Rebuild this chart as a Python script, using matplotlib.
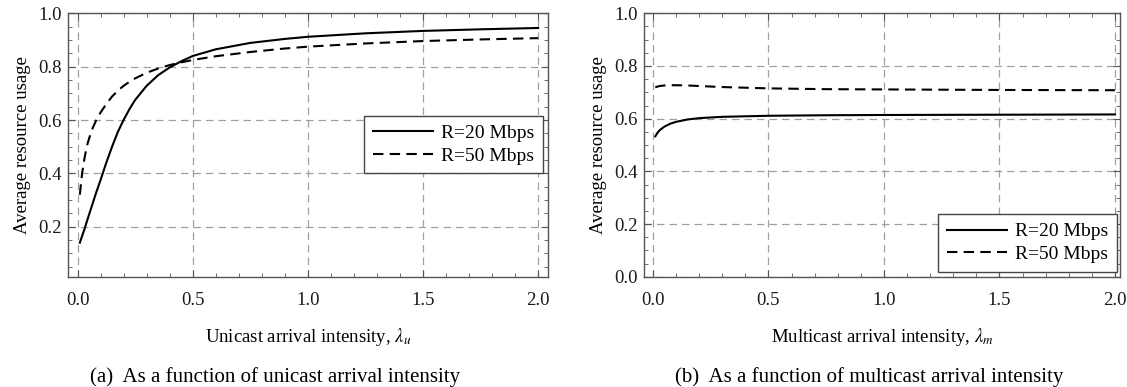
import numpy as np
import matplotlib
matplotlib.use('Agg')
import matplotlib.pyplot as plt
from matplotlib.ticker import MultipleLocator

plt.rcParams['font.family'] = ['Liberation Serif', 'DejaVu Serif']
plt.rcParams['mathtext.fontset'] = 'stix'

# (a) unicast arrival intensity
uni_x = [0.01, 0.02, 0.03, 0.04, 0.05, 0.065, 0.08, 0.1, 0.125, 0.15, 0.175, 0.2, 0.225, 0.25,
         0.3, 0.35, 0.4, 0.45, 0.5, 0.6, 0.75, 0.9, 1.0, 1.25, 1.5, 1.75, 2.0]
uni_r20 = [0.14, 0.165, 0.19, 0.218, 0.245, 0.285, 0.325, 0.375, 0.44, 0.50, 0.555, 0.60, 0.64, 0.675,
           0.728, 0.768, 0.797, 0.82, 0.84, 0.865, 0.889, 0.904, 0.912, 0.925, 0.934, 0.94, 0.945]
uni_r50 = [0.32, 0.40, 0.455, 0.50, 0.53, 0.568, 0.597, 0.628, 0.66, 0.688, 0.71, 0.728, 0.743, 0.756,
           0.777, 0.793, 0.806, 0.816, 0.825, 0.839, 0.855, 0.868, 0.875, 0.887, 0.896, 0.902, 0.907]

# (b) multicast arrival intensity
mul_x = [0.01, 0.02, 0.03, 0.05, 0.075, 0.1, 0.15, 0.2, 0.3, 0.5, 0.75, 1.0, 1.5, 2.0]
mul_r20 = [0.533, 0.547, 0.557, 0.570, 0.581, 0.588, 0.597, 0.602, 0.607, 0.611, 0.613, 0.614, 0.615, 0.616]
mul_r50 = [0.719, 0.722, 0.724, 0.726, 0.727, 0.727, 0.726, 0.724, 0.72, 0.715, 0.712, 0.711, 0.709, 0.708]

labels = ['R=20 Mbps', 'R=50 Mbps']

fig = plt.figure(figsize=(11.27, 3.87), dpi=100)
ax1 = fig.add_axes([0.0606, 0.2850, 0.4257, 0.6806])
ax2 = fig.add_axes([0.5714, 0.2850, 0.4224, 0.6806])


def style(ax, xlim, ylo):
    ax.set_xlim(*xlim)
    ax.set_ylim(ylo, 1.0)
    ax.xaxis.set_major_locator(MultipleLocator(0.5))
    ax.xaxis.set_minor_locator(MultipleLocator(0.1))
    ax.yaxis.set_major_locator(MultipleLocator(0.2))
    ax.yaxis.set_minor_locator(MultipleLocator(0.05))
    ax.tick_params(which='both', direction='in', top=True, right=True, color='#555555',
                   labelcolor='#1a1a1a')
    ax.tick_params(which='major', length=4.8, width=0.8, labelsize=13.5, pad=11)
    ax.tick_params(which='minor', length=2.9, width=0.6)
    ax.tick_params(axis='y', which='major', pad=4.5)
    ax.grid(True, which='major', linestyle=(0, (6, 4)), color='#a0a0a0', linewidth=0.9)
    for s in ax.spines.values():
        s.set_color('#555555')
        s.set_linewidth(1.0)
    ax.set_ylabel('Average resource usage', fontsize=13.5, labelpad=5.5)


def add_legend(ax, loc, anchor):
    ax.legend(loc=loc, bbox_to_anchor=anchor, fontsize=14, handlelength=3.1,
              handletextpad=0.4, fancybox=False, edgecolor='#444444', framealpha=1,
              borderpad=0.45, borderaxespad=0, labelspacing=0.25)


ax1.plot(uni_x, uni_r20, color='black', lw=1.5, label=labels[0])
ax1.plot(uni_x, uni_r50, color='black', lw=1.5, linestyle=(0, (5, 3)), label=labels[1])
style(ax1, (-0.040, 2.043), 0.0125)
ax1.set_yticks([0.2, 0.4, 0.6, 0.8, 1.0])
ax1.set_xlabel(r'Unicast arrival intensity, $\lambda_u$', fontsize=13.5, labelpad=12)
add_legend(ax1, 'upper right', (0.99, 0.611))

ax2.plot(mul_x, mul_r20, color='black', lw=1.5, label=labels[0])
ax2.plot(mul_x, mul_r50, color='black', lw=1.5, linestyle=(0, (5, 3)), label=labels[1])
style(ax2, (-0.039, 2.022), 0.0)
ax2.set_xlabel(r'Multicast arrival intensity, $\lambda_m$', fontsize=13.5, labelpad=12)
add_legend(ax2, 'lower right', (0.993, 0.019))

fig.text(0.244, 0.013, '(a)  As a function of unicast arrival intensity', ha='center',
         va='baseline', fontsize=15)
fig.text(0.7715, 0.013, '(b)  As a function of multicast arrival intensity', ha='center',
         va='baseline', fontsize=15)

fig.savefig('out.png', dpi=100)
